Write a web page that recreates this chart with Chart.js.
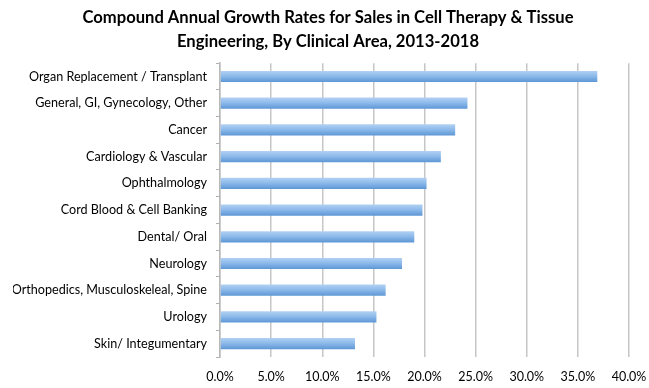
<!DOCTYPE html>
<html>
<head>
<meta charset="utf-8">
<script src="https://cdn.jsdelivr.net/npm/chart.js@4"></script>
<style>
html,body{margin:0;padding:0;background:#fff;}
#wrap{width:649px;height:388px;}
</style>
</head>
<body>
<div id="wrap"><canvas id="c" width="649" height="388"></canvas></div>
<script>
const categories = [
  "Organ Replacement / Transplant",
  "General, GI, Gynecology, Other",
  "Cancer",
  "Cardiology & Vascular",
  "Ophthalmology",
  "Cord Blood & Cell Banking",
  "Dental/ Oral",
  "Neurology",
  "Orthopedics, Musculoskeleal, Spine",
  "Urology",
  "Skin/ Integumentary"
];
const cagr = [36.9, 24.2, 23.0, 21.6, 20.2, 19.8, 19.0, 17.8, 16.2, 15.3, 13.2];
const xTicks = [0, 5, 10, 15, 20, 25, 30, 35, 40];
const titleLines = ["Compound Annual Growth Rates for Sales in Cell Therapy & Tissue", "Engineering, By Clinical Area, 2013-2018"];

const FONT = "Lato, 'Open Sans', sans-serif";

function barGradient(ctx) {
  const chart = ctx.chart;
  const y = chart.scales && chart.scales.y;
  if (!y || ctx.dataIndex === undefined) return '#7fb0e6';
  const c = y.getPixelForValue(ctx.dataIndex);
  if (!isFinite(c)) return '#7fb0e6';
  const h = 6;
  const g = chart.ctx.createLinearGradient(0, c - h, 0, c + h);
  g.addColorStop(0, '#b4d2f3');
  g.addColorStop(0.45, '#8ebbeb');
  g.addColorStop(1, '#5a94d4');
  return g;
}

new Chart(document.getElementById('c'), {
  type: 'bar',
  data: {
    labels: categories,
    datasets: [{
      data: cagr,
      backgroundColor: barGradient,
      borderWidth: 0,
      barPercentage: 0.42,
      categoryPercentage: 1.0
    }]
  },
  options: {
    indexAxis: 'y',
    responsive: false,
    animation: false,
    devicePixelRatio: 1,
    layout: { padding: { left: 13, right: 6, top: 0, bottom: 0 } },
    plugins: {
      legend: { display: false },
      tooltip: { enabled: false },
      title: {
        display: true,
        text: titleLines,
        color: '#000',
        font: { family: FONT, size: 16.6, weight: 'bold', lineHeight: 1.45 },
        padding: { top: 6, bottom: 9 }
      }
    },
    scales: {
      x: {
        min: 0, max: 40,
        afterBuildTicks: (s) => { s.ticks = xTicks.map(v => ({ value: v })); },
        afterFit: (s) => { s.height = 31; s.paddingRight = 20; s.paddingLeft = 0; },
        ticks: {
          color: '#000',
          font: { family: FONT, size: 12.5 },
          padding: 12,
          maxRotation: 0,
          callback: (v) => Number(v).toFixed(1) + '%'
        },
        grid: { color: '#c6c6c6', lineWidth: 1.5, tickLength: 0, drawTicks: false },
        border: { display: false }
      },
      y: {
        afterFit: (s) => { s.width = 207; },
        ticks: {
          color: '#000',
          font: { family: FONT, size: 12.6 },
          padding: 9,
          autoSkip: false
        },
        grid: { display: true, drawOnChartArea: false, offset: true, color: '#b0b0b0', tickLength: 4, lineWidth: 1 },
        border: { display: true, color: '#b8b8b8', width: 1.5 }
      }
    }
  }
});
</script>
</body>
</html>
